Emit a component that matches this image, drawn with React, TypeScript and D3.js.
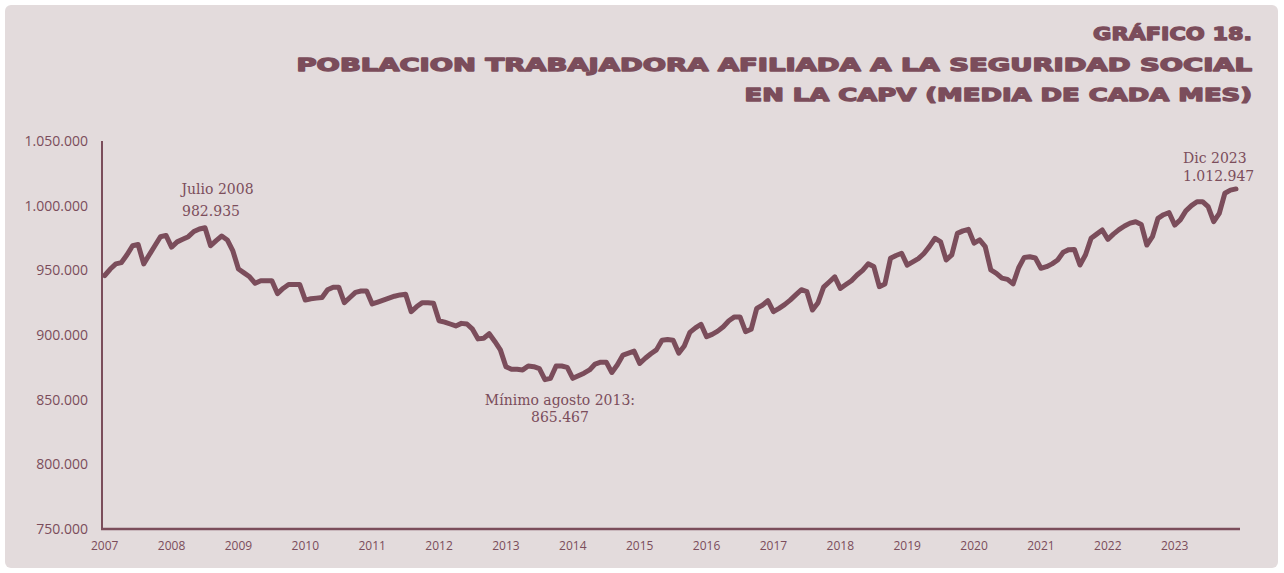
import React, { useLayoutEffect, useRef } from "react";
import * as d3 from "d3";

// afiliados medios por mes (miles), ene..dic
const y2007 = [946, 951, 955, 956, 962, 969, 970, 955, 962, 969, 976, 977];
const y2008 = [968, 972, 974, 976, 980, 982, 982.935, 969, 973, 976.5, 973.5, 965];
const y2009 = [951, 948, 945, 940, 942, 942, 942, 932, 936, 939, 939, 939];
const y2010 = [927, 928, 928.5, 929, 935, 937, 937, 925, 929, 933, 934, 934];
const y2011 = [924, 925.5, 927, 928.5, 930, 931, 931.5, 918, 922, 925, 925, 924.5];
const y2012 = [911, 910, 908.5, 907, 909, 908.5, 904.5, 897, 897.5, 901, 895, 888.5];
const y2013 = [875.5, 873.5, 873.5, 873, 876, 875.5, 874, 865.467, 866.5, 876, 876, 875];
const y2014 = [866.5, 868.5, 870.5, 873, 877.5, 879, 879, 871, 877, 884.5, 886, 887.5];
const y2015 = [878, 882, 885.5, 888.5, 896, 896.5, 896, 886, 891.5, 902, 905.5, 908.3];
const y2016 = [898.7, 900.5, 903, 906.4, 911, 914, 914, 902.6, 904.4, 920.6, 923, 926.5];
const y2017 = [918, 920.6, 923.5, 927, 931, 935, 933.5, 919.3, 925, 937, 941, 945];
const y2018 = [936, 939, 942, 946.4, 950, 955, 953, 937.4, 939.5, 959.3, 961.5, 963.2];
const y2019 = [954, 956.5, 959, 963, 968.5, 974.8, 972, 958, 962, 978.6, 980.5, 981.7];
const y2020 = [971, 973.5, 968.3, 950.3, 947.7, 944, 943, 939.5, 952, 960, 960.5, 959.5];
const y2021 = [951.6, 952.8, 955, 958, 964, 966, 966.2, 954.1, 962, 974.8, 978, 981.2];
const y2022 = [974, 978, 981.5, 984.3, 986.5, 987.6, 985.5, 969.6, 976, 990.2, 993, 994.6];
const y2023 = [985, 989, 996, 1000, 1003, 1003.1, 999.2, 987.6, 994, 1009.6, 1012, 1012.947];

const years = [2007, 2008, 2009, 2010, 2011, 2012, 2013, 2014, 2015, 2016, 2017, 2018, 2019, 2020, 2021, 2022, 2023];
const yTicks = [750000, 800000, 850000, 900000, 950000, 1000000, 1050000];

const titleLines = [
  "GRÁFICO 18.",
  "POBLACION TRABAJADORA AFILIADA A LA SEGURIDAD SOCIAL",
  "EN LA CAPV (MEDIA DE CADA MES)",
];

const serie = [
  y2007, y2008, y2009, y2010, y2011, y2012, y2013, y2014, y2015,
  y2016, y2017, y2018, y2019, y2020, y2021, y2022, y2023,
].flat().map((v) => v * 1000);

const WIDTH = 1284;
const HEIGHT = 573;
const COLOR = "#7b4d5b";
const BG = "#e3dbdc";

// formato con punto de miles
const fmt = (v: number) => d3.format(",.0f")(v).replace(/,/g, ".");

export default function App() {
  const titleRefs = useRef<(SVGTextElement | null)[]>([]);
  const titleY = [39.5, 70.5, 101];
  const titleW = [159, 956, 508];

  // estirar el titulo al ancho del original
  useLayoutEffect(() => {
    titleRefs.current.forEach((el, i) => {
      if (!el) return;
      const w = el.getComputedTextLength();
      const s = titleW[i] / w;
      el.setAttribute("transform", `translate(1252, ${titleY[i]}) scale(${s}, 1)`);
    });
  }, []);

  const x = d3.scaleLinear().domain([0, serie.length - 1]).range([104.7, 1236]);
  const y = d3.scaleLinear().domain([750000, 1050000]).range([529, 141]);

  const line = d3
    .line<number>()
    .x((_, i) => x(i))
    .y((d) => y(d));

  // puntos anotados
  const iMax = 18;
  const iMin = 79;
  const iLast = serie.length - 1;

  const serif = "'DejaVu Serif', serif";
  const sans = "'Open Sans', sans-serif";
  const title = "'DejaVu Sans', sans-serif";

  return (
    <svg
      width={WIDTH}
      height={HEIGHT}
      style={{ position: "absolute", left: 0, top: 0, background: "#ffffff" }}
    >
      <rect x={5} y={5} width={1273} height={563} rx={6} fill={BG} />

      {/* titulo */}
      <g
        fill={COLOR}
        stroke={COLOR}
        strokeWidth={1.3}
        strokeLinejoin="round"
        fontFamily={title}
        fontWeight={700}
        fontSize={17}
        textAnchor="end"
      >
        {titleLines.map((t, i) => (
          <text
            key={t}
            ref={(el) => {
              titleRefs.current[i] = el;
            }}
            transform={`translate(1252, ${titleY[i]})`}
          >
            {t}
          </text>
        ))}
      </g>

      {/* ejes */}
      <line x1={102} x2={102} y1={y(1050000)} y2={y(750000) + 1} stroke={COLOR} strokeWidth={2} />
      <line x1={101} x2={1240} y1={y(750000)} y2={y(750000)} stroke={COLOR} strokeWidth={2.5} />

      <g fill={COLOR} fontFamily={sans} fontSize={14} textAnchor="end">
        {yTicks.map((t) => (
          <text key={t} x={88} y={y(t)} dy="0.35em">
            {fmt(t)}
          </text>
        ))}
      </g>

      <g fill={COLOR} fontFamily={sans} fontSize={12} textAnchor="middle">
        {years.map((yr, i) => (
          <text key={yr} x={x(i * 12)} y={550}>
            {yr}
          </text>
        ))}
      </g>

      <path
        d={line(serie) ?? ""}
        fill="none"
        stroke={COLOR}
        strokeWidth={5}
        strokeLinejoin="round"
        strokeLinecap="round"
      />

      {/* anotaciones */}
      <g fill={COLOR} fontFamily={serif} fontSize={14} textAnchor="middle">
        <text x={x(iMax) + 12.5} y={y(serie[iMax]) - 34}>Julio 2008</text>
        <text x={x(iMax) + 6} y={y(serie[iMax]) - 12}>{fmt(serie[iMax])}</text>
        <text x={x(iMin) + 15} y={y(serie[iMin]) + 25}>Mínimo agosto 2013:</text>
        <text x={x(iMin) + 15} y={y(serie[iMin]) + 42}>{fmt(serie[iMin])}</text>
        <text x={x(iLast) - 53} y={y(serie[iLast]) - 26} textAnchor="start">Dic 2023</text>
        <text x={x(iLast) - 53} y={y(serie[iLast]) - 8} textAnchor="start">{fmt(serie[iLast])}</text>
      </g>
    </svg>
  );
}
